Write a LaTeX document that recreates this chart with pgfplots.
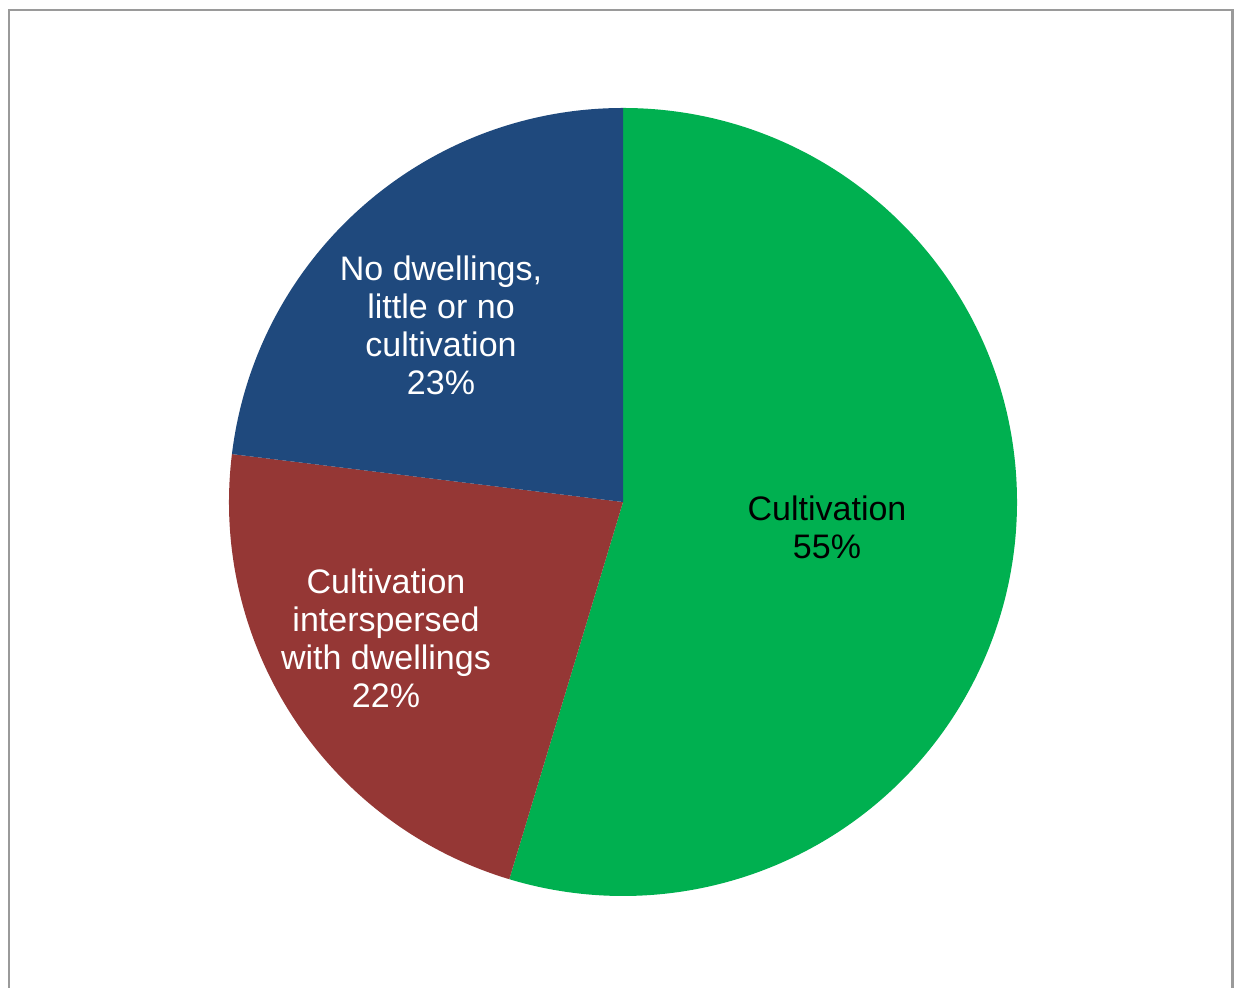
\documentclass[border=0pt]{standalone}
\usepackage{pgfplots}
\usepackage{pgfplotstable}
\pgfplotsset{compat=1.18}
\usepackage{fontspec}
\setmainfont{Liberation Sans}
\definecolor{cgreen}{HTML}{00B050}
\definecolor{cred}{HTML}{953735}
\definecolor{cblue}{HTML}{1F497D}
\definecolor{cborder}{HTML}{9A9A9A}
\pgfplotstableread{
value
54.66
22.28
23.06
}\piedata
\pgfplotstablegetelem{0}{value}\of\piedata \let\vA\pgfplotsretval
\pgfplotstablegetelem{1}{value}\of\piedata \let\vB\pgfplotsretval
\pgfplotstablegetelem{2}{value}\of\piedata \let\vC\pgfplotsretval
\pgfmathsetmacro\aA{90}
\pgfmathsetmacro\aB{90-3.6*\vA}
\pgfmathsetmacro\aC{\aB-3.6*\vB}
\pgfmathsetmacro\aD{\aC-3.6*\vC}
\pgfmathtruncatemacro\pA{round(\vA)}
\pgfmathtruncatemacro\pB{round(\vB)}
\pgfmathtruncatemacro\pC{round(\vC)}
\begin{document}
\begin{tikzpicture}
\begin{axis}[hide axis, scale only axis, width=617pt, height=494pt,
  xmin=0, xmax=1234, ymin=0, ymax=988, clip=true]
\addplot[draw=none, forget plot] coordinates {(623,486)};
\path (rel axis cs:0,0) rectangle (rel axis cs:1,1);
\draw[cborder, line width=1.2pt] (axis cs:9,-10) -- (axis cs:9,978) -- (axis cs:1232.5,978) -- (axis cs:1232.5,-10);
\fill[cgreen] (axis cs:623,486) -- ++(\aA:197pt) arc[start angle=\aA, end angle=\aB, radius=197pt] -- cycle;
\fill[cred] (axis cs:623,486) -- ++(\aB:197pt) arc[start angle=\aB, end angle=\aC, radius=197pt] -- cycle;
\fill[cblue] (axis cs:623,486) -- ++(\aC:197pt) arc[start angle=\aC, end angle=\aD, radius=197pt] -- cycle;
\node[align=center, text=black, font=\fontsize{17}{19}\selectfont] at (axis cs:827,461) {Cultivation\\\pA\%};
\node[align=center, text=white, font=\fontsize{17}{19}\selectfont] at (axis cs:386,350) {Cultivation\\interspersed\\with dwellings\\\pB\%};
\node[align=center, text=white, font=\fontsize{17}{19}\selectfont] at (axis cs:441,663) {No dwellings,\\little or no\\cultivation\\\pC\%};
\end{axis}
\end{tikzpicture}
\end{document}
